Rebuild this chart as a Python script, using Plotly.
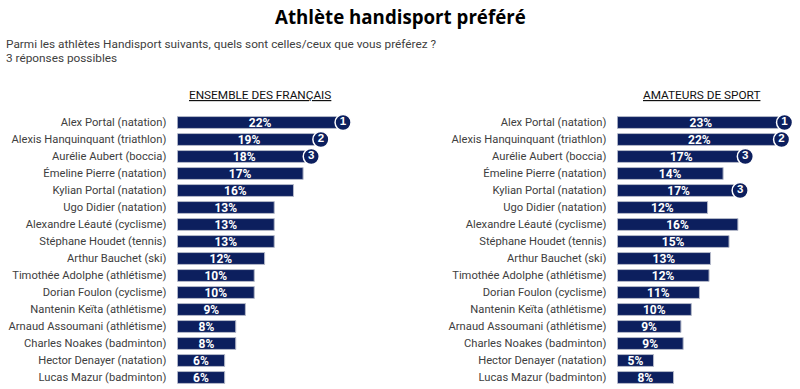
import plotly.graph_objects as go

athletes = [
    "Alex Portal (natation)",
    "Alexis Hanquinquant (triathlon)",
    "Aurélie Aubert (boccia)",
    "Émeline Pierre (natation)",
    "Kylian Portal (natation)",
    "Ugo Didier (natation)",
    "Alexandre Léauté (cyclisme)",
    "Stéphane Houdet (tennis)",
    "Arthur Bauchet (ski)",
    "Timothée Adolphe (athlétisme)",
    "Dorian Foulon (cyclisme)",
    "Nantenin Keïta (athlétisme)",
    "Arnaud Assoumani (athlétisme)",
    "Charles Noakes (badminton)",
    "Hector Denayer (natation)",
    "Lucas Mazur (badminton)",
]
ensemble_values = [22.4, 19.4, 18.1, 17.0, 15.7, 13.1, 13.1, 13.1, 11.8, 10.4, 10.4, 9.2, 7.9, 7.9, 6.4, 6.4]
amateurs_values = [22.6, 22.2, 17.3, 14.3, 16.6, 12.2, 16.3, 15.1, 12.6, 12.4, 11.1, 10.0, 8.6, 8.9, 4.9, 7.6]
ensemble_ranks = {0: "1", 1: "2", 2: "3"}
amateurs_ranks = {0: "1", 1: "2", 2: "3", 4: "3"}

panel_titles = ["ENSEMBLE DES FRANÇAIS", "AMATEURS DE SPORT"]
title_text = "Athlète handisport préféré"
subtitle_lines = ["Parmi les athlètes Handisport suivants, quels sont celles/ceux que vous préférez ?",
                  "3 réponses possibles"]

NAVY = "#0c1f5e"
LABEL_FONT = "Roboto, Arial, sans-serif"
W, H = 800, 389

def py(px):
    return 1 - px / H

fig = go.Figure()

for vals, ranks, xa, ya in [(ensemble_values, ensemble_ranks, "x", "y"),
                            (amateurs_values, amateurs_ranks, "x2", "y2")]:
    fig.add_trace(go.Bar(
        x=vals, y=athletes, orientation="h", xaxis=xa, yaxis=ya,
        marker=dict(color=NAVY, line=dict(color="#b4b9c9", width=1)),
        text=[f"{v:.0f}%" for v in vals], textposition="inside",
        insidetextanchor="middle",
        textfont=dict(color="white", size=12, family=LABEL_FONT, weight="bold"),
        hoverinfo="skip", showlegend=False,
    ))
    idx = sorted(ranks)
    fig.add_trace(go.Scatter(
        x=[vals[i] for i in idx], y=[athletes[i] for i in idx],
        xaxis=xa, yaxis=ya, mode="markers+text",
        marker=dict(size=16, color=NAVY, line=dict(color="white", width=1.5)),
        text=[ranks[i] for i in idx], textposition="middle center",
        textfont=dict(color="white", size=11.5, family="Arial, sans-serif", weight="bold"),
        hoverinfo="skip", showlegend=False, cliponaxis=False,
    ))

scale = 7.4  # px per %
l0, r0 = 177.3, 617.3
ydom = [3 / H, 1 - 114 / H]
n = len(athletes)
yax = dict(categoryorder="array", categoryarray=athletes, range=[n - 0.5, -0.5],
           autorange=False,
           showgrid=False, zeroline=False, showline=False, ticks="",
           ticklabelstandoff=10, automargin=False,
           tickfont=dict(size=11.2, color="#404040", family=LABEL_FONT),
           domain=ydom)
fig.update_layout(
    width=W, height=H, margin=dict(l=0, r=0, t=0, b=0, pad=0, autoexpand=False),
    paper_bgcolor="white", plot_bgcolor="white",
    bargap=0.3,
    uniformtext=dict(minsize=12, mode="show"),
    xaxis=dict(domain=[l0 / W, (l0 + 180) / W], range=[0, 180 / scale], visible=False, automargin=False),
    xaxis2=dict(domain=[r0 / W, 1.0], range=[0, (W - r0) / scale], visible=False, automargin=False),
    yaxis=dict(anchor="x", **yax),
    yaxis2=dict(anchor="x2", **yax),
)

annotations = [
    dict(text=f"<b>{title_text}</b>", x=0.5, y=py(17), xanchor="center", yanchor="middle",
         font=dict(size=18.7, color="#000000", family="Open Sans, sans-serif")),
    dict(text=subtitle_lines[0], x=4 / W, y=py(44), xanchor="left", yanchor="middle",
         font=dict(size=11.8, color="#404040", family=LABEL_FONT)),
    dict(text=subtitle_lines[1], x=4 / W, y=py(58), xanchor="left", yanchor="middle",
         font=dict(size=11.8, color="#404040", family=LABEL_FONT)),
    dict(text=f"<u>{panel_titles[0]}</u>", x=260 / W, y=py(95), xanchor="center", yanchor="middle",
         font=dict(size=11.8, color="#111111", family=LABEL_FONT)),
    dict(text=f"<u>{panel_titles[1]}</u>", x=701 / W, y=py(95), xanchor="center", yanchor="middle",
         font=dict(size=11.8, color="#111111", family=LABEL_FONT)),
]
for a in annotations:
    a.update(xref="paper", yref="paper", showarrow=False)
fig.update_layout(annotations=annotations)

fig.write_html("out.html", config={"displayModeBar": False},
               post_script="document.body.style.margin='0';document.body.style.overflow='hidden';")
